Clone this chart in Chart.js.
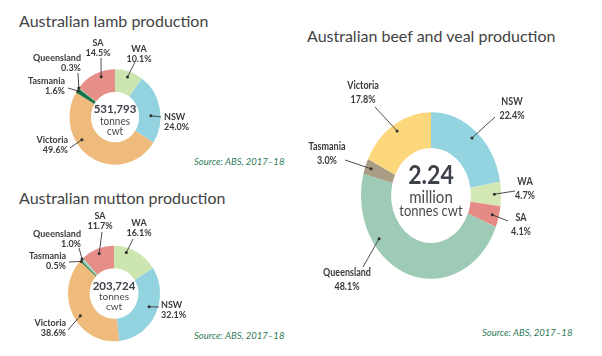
<!DOCTYPE html>
<html><head><meta charset="utf-8">
<script src="https://cdn.jsdelivr.net/npm/chart.js@4.4.0/dist/chart.umd.min.js"></script>
<style>
html,body{margin:0;padding:0;background:#fff;width:602px;height:356px;overflow:hidden;}
.t{position:absolute;font-family:Lato,sans-serif;color:#434343;white-space:nowrap;line-height:1;}
.title{font-size:16px;}
.src{font-style:italic;font-size:9.5px;color:#2d7a57;}
canvas{position:absolute;left:0;top:0;}
</style></head><body>
<div class="t title" style="left:19px;top:12.5px">Australian lamb production</div>
<div class="t title" style="left:19px;top:190px">Australian mutton production</div>
<div class="t title" style="left:307px;top:28px">Australian beef and veal production</div>
<div class="t src" style="left:194px;top:157px">Source: ABS, 2017–18</div>
<div class="t src" style="left:194px;top:331px">Source: ABS, 2017–18</div>
<div class="t src" style="left:482px;top:328px">Source: ABS, 2017–18</div>
<canvas id="lamb" width="602" height="356"></canvas>
<canvas id="mutton" width="602" height="356"></canvas>
<canvas id="beef" width="602" height="356"></canvas>
<script>
// ---- data ----
const lambStates = ['WA','NSW','Victoria','Tasmania','Queensland','SA'];
const lambShares = [10.1, 24.0, 49.6, 1.6, 0.3, 14.5];
const lambTotal = ['531,793','tonnes','cwt'];

const muttonStates = ['WA','NSW','Victoria','Tasmania','Queensland','SA'];
const muttonShares = [16.1, 32.1, 38.6, 0.5, 1.0, 11.7];
const muttonTotal = ['203,724','tonnes','cwt'];

const beefStates = ['NSW','WA','SA','Queensland','Tasmania','Victoria'];
const beefShares = [22.4, 4.7, 4.1, 48.1, 3.0, 17.8];
const beefTotal = ['2.24','million','tonnes cwt'];

// ---- styles ----
const lambColors = ['#cde5ae','#92d3df','#efbb7c','#16774a','#7fbf9f','#e68f88'];
const muttonColors = ['#cde5ae','#92d3df','#efbb7c','#16774a','#9fd0b8','#e68f88'];
const beefColors = ['#d3e8b4','#e58a84','#9dcbb6','#a99d86','#fdd77c'];
const beefColorsFull = ['#93d4e0'].concat(beefColors);

// label layout: text pos (tx,ty) rel. to centre, align, leader end (lx,ly), dot arc fraction f, radial fraction rr
const lambLayout = {
  cx:115, cy:117, R:45.5, cutout:'53%', sy:1.05, lh:9.5,
  center:[{t:0,dy:-8,font:'bold 11.5px Lato',c:'#3d4148'},{t:1,dy:4.5,font:'10px Lato',c:'#4a4a4a'},{t:2,dy:14.5,font:'10px Lato',c:'#4a4a4a'}],
  labels:[
    {tx:24,ty:-68,al:'center',lx:20,ly:-55},
    {tx:49,ty:0,al:'left',lx:46,ly:0,f:0.6,rr:0.55},
    {tx:-47,ty:23,al:'right',lx:-45,ly:31,f:0.64,rr:0.72},
    {tx:-50,ty:-36,al:'right',lx:-47,ly:-29,rr:0.95},
    {tx:-34,ty:-59,al:'right',lx:-37,ly:-44,rr:1.0},
    {tx:-17,ty:-74,al:'center',lx:-14,ly:-59,f:0.62,rr:0.78}
  ]
};
const muttonLayout = {
  cx:114, cy:293.5, R:46, cutout:'53%', sy:1.04, lh:10,
  center:[{t:0,dy:-7.5,font:'bold 11.5px Lato',c:'#3d4148'},{t:1,dy:3.5,font:'10px Lato',c:'#4a4a4a'},{t:2,dy:13.5,font:'10px Lato',c:'#4a4a4a'}],
  labels:[
    {tx:25,ty:-70.5,al:'center',lx:19,ly:-54.5,f:0.3,rr:0.78},
    {tx:47,ty:11.5,al:'left',lx:45,ly:13.5,f:0.45,rr:0.6},
    {tx:-48,ty:29.5,al:'right',lx:-46,ly:36.5,f:0.46,rr:0.72},
    {tx:-48,ty:-37.5,al:'right',lx:-45,ly:-31.5,rr:0.95},
    {tx:-33,ty:-59.5,al:'right',lx:-35,ly:-45.5,rr:1.0},
    {tx:-14,ty:-78,al:'center',lx:-12,ly:-61.5,rr:0.78}
  ]
};
const beefLayout = {
  cx:431, cy:195.5, R:70, cutout:'57%', sy:1.19, lh:14,
  center:[{t:0,dy:-20.5,font:'bold 23px Lato',c:'#3d4148'},{t:1,dy:1.5,font:'15px Lato',c:'#4a4a4a'},{t:2,dy:15.5,font:'13px Lato',c:'#4a4a4a'}],
  labels:[
    {tx:81,ty:-93.5,al:'center',lx:64,ly:-78.5,rr:0.78},
    {tx:94,ty:-13.5,al:'center',lx:84,ly:-4.5,rr:0.78},
    {tx:90,ty:22.5,al:'center',lx:77,ly:25.5,rr:0.78},
    {tx:-84,ty:77.5,al:'center',lx:-68,ly:71.5,f:0.71,rr:0.78},
    {tx:-104,ty:-48.5,al:'center',lx:-86,ly:-35.5,rr:0.8},
    {tx:-68,ty:-109.5,al:'center',lx:-56,ly:-88.5,rr:0.8}
  ]
};

const ringPlugin = {
  id:'ring',
  beforeDatasetsDraw(chart){
    const L = chart.options.plugins.ring.layout;
    const a = chart.getDatasetMeta(0).data[0];
    const ctx = chart.ctx;
    ctx.save();
    ctx.translate(a.x, a.y); ctx.scale(1, L.sy); ctx.translate(-a.x, -a.y);
  },
  afterDatasetsDraw(chart){
    const ctx = chart.ctx;
    ctx.restore();
    const o = chart.options.plugins.ring;
    const L = o.layout;
    const meta = chart.getDatasetMeta(0);
    const cx = meta.data[0].x, cy = meta.data[0].y;
    const labels = chart.data.labels;
    const vals = chart.data.datasets[0].data;
    // leader lines + dots
    meta.data.forEach((arc, i) => {
      const s = L.labels[i];
      const p = arc.getProps(['startAngle','endAngle','innerRadius','outerRadius']);
      const f = s.f ?? 0.5, rr = s.rr ?? 0.75;
      const ang = p.startAngle + f * (p.endAngle - p.startAngle);
      const r = p.innerRadius + rr * (p.outerRadius - p.innerRadius);
      const dx = cx + r * Math.cos(ang), dy = cy + r * Math.sin(ang) * L.sy;
      ctx.save();
      ctx.strokeStyle = '#3a3a3a'; ctx.lineWidth = 0.9;
      ctx.beginPath(); ctx.moveTo(dx, dy); ctx.lineTo(cx + s.lx, cy + s.ly); ctx.stroke();
      ctx.fillStyle = '#2e2e2e';
      ctx.beginPath(); ctx.arc(dx, dy, 1.5, 0, Math.PI * 2); ctx.fill();
      ctx.restore();
      const lines = [labels[i], vals[i].toFixed(1) + '%'];
      lines.forEach((t, k) => {
        ctx.save();
        ctx.translate(cx + s.tx, cy + s.ty + k * L.lh);
        ctx.scale(1, L.sy);
        ctx.font = 'bold 9px Lato';
        ctx.fillStyle = '#3a3a3a';
        ctx.textAlign = s.al; ctx.textBaseline = 'middle';
        ctx.fillText(t, 0, 0);
        ctx.restore();
      });
    });
    // centre text
    L.center.forEach(c => {
      ctx.save();
      ctx.translate(cx, cy + c.dy);
      ctx.scale(1, L.sy);
      ctx.font = c.font; ctx.fillStyle = c.c;
      ctx.textAlign = 'center'; ctx.textBaseline = 'middle';
      ctx.fillText(o.total[c.t], 0, 0);
      ctx.restore();
    });
  }
};

function makeDonut(id, states, shares, colors, total, L){
  const W = 602, H = 356;
  return new Chart(document.getElementById(id), {
    type:'doughnut',
    data:{ labels: states, datasets:[{ data: shares, backgroundColor: colors, borderWidth:0, hoverOffset:0, offset:0, spacing:0, clip:false }] },
    options:{
      responsive:false, animation:false, cutout:L.cutout,
      layout:{ padding:{ left:L.cx - L.R, right:W - L.cx - L.R, top:L.cy - L.R, bottom:H - L.cy - L.R } },
      events:[],
      plugins:{ legend:{display:false}, tooltip:{enabled:false}, ring:{ layout:L, total: total } }
    },
    plugins:[ringPlugin]
  });
}
makeDonut('lamb', lambStates, lambShares, lambColors, lambTotal, lambLayout);
makeDonut('mutton', muttonStates, muttonShares, muttonColors, muttonTotal, muttonLayout);
makeDonut('beef', beefStates, beefShares, beefColorsFull, beefTotal, beefLayout);
</script>
</body></html>
